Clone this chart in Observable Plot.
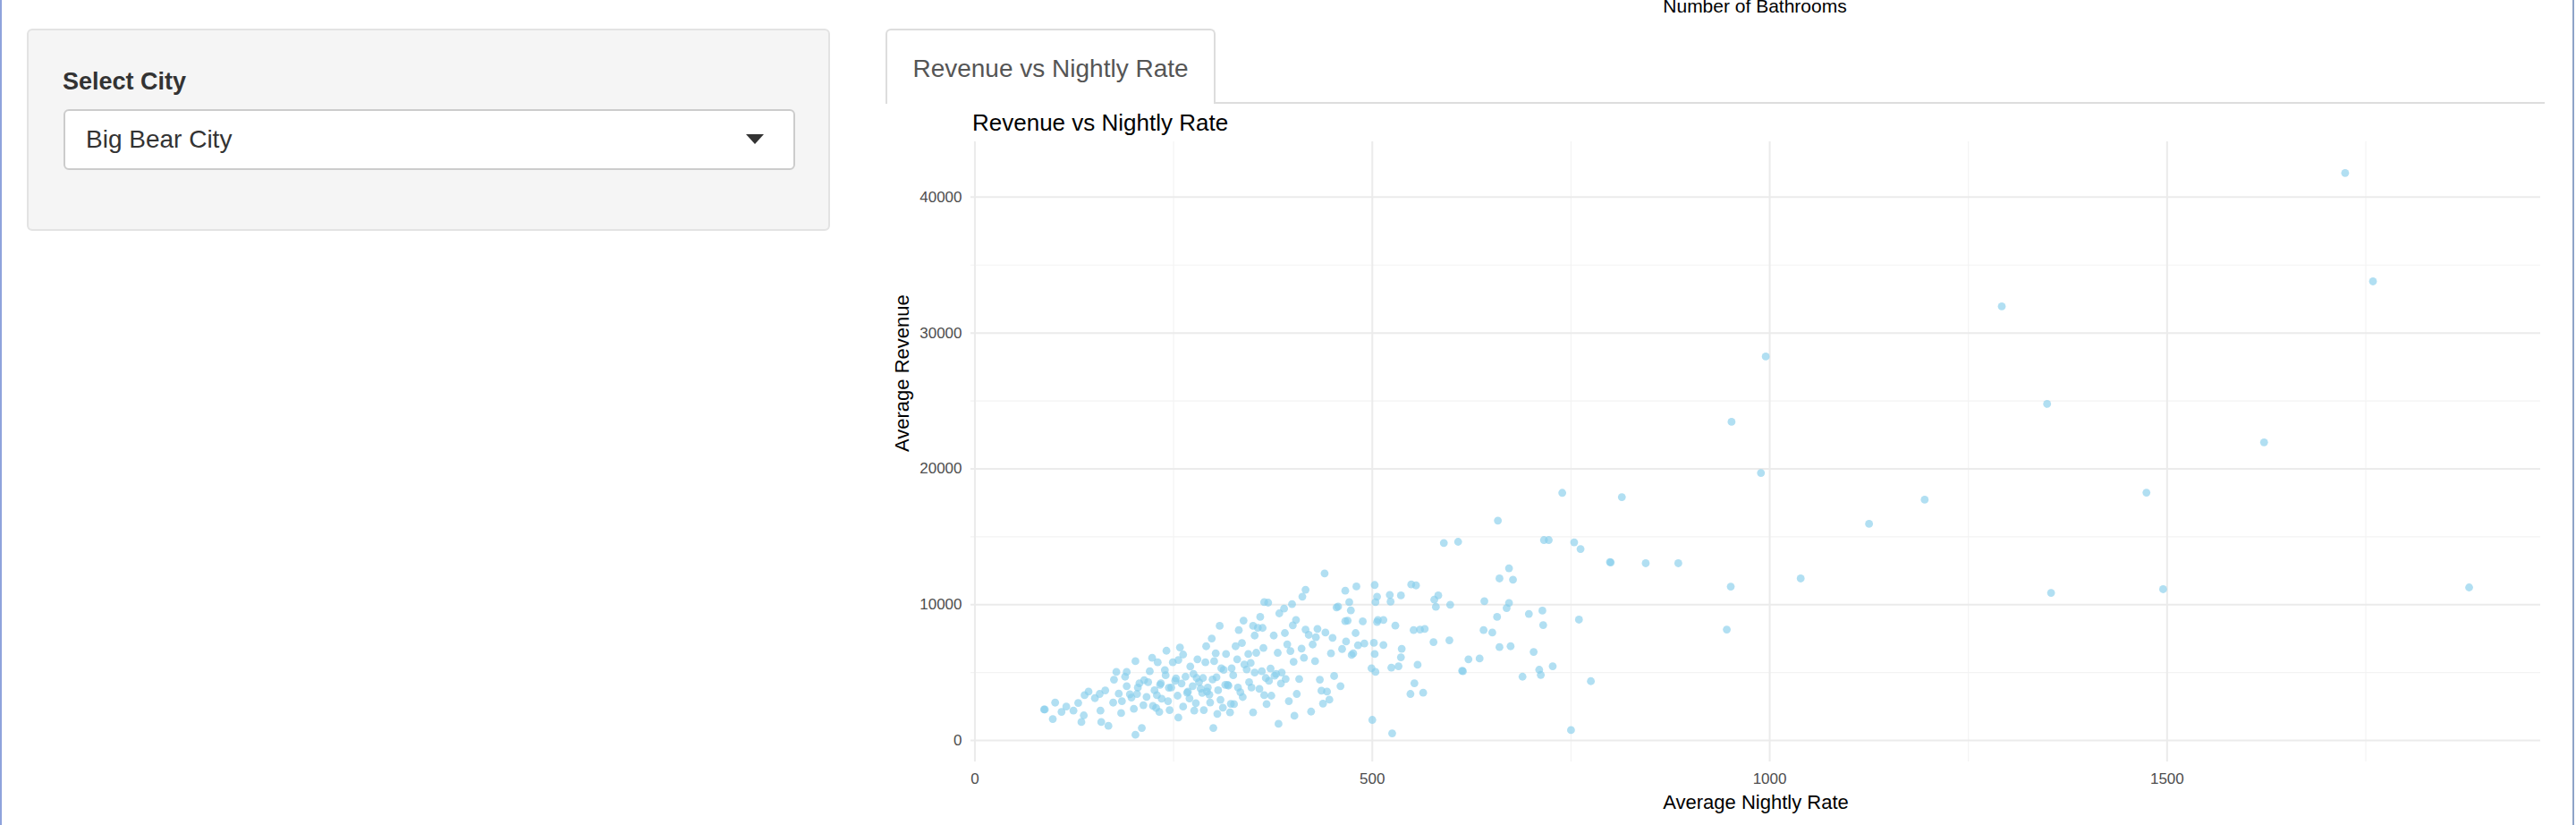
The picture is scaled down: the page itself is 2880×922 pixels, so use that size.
<!DOCTYPE html>
<html>
<head>
<meta charset="utf-8">
<script src="https://cdn.jsdelivr.net/npm/d3@7"></script>
<script src="https://cdn.jsdelivr.net/npm/@observablehq/plot@0.6"></script>
<style>
  body { margin: 0; width: 2880px; height: 922px; overflow: hidden; background: #fff; font-family: "Liberation Sans", Arial, sans-serif; }
  #page { position: relative; width: 2880px; height: 922px; }
  #plot { position: absolute; left: 0; top: 0; }
  .abs { position: absolute; }
  #sidebar { left: 30px; top: 32px; width: 898px; height: 226px; background: #f5f5f5; border: 2px solid #e3e3e3; border-radius: 6px; box-sizing: border-box; }
  #lbl { left: 70px; top: 76px; font-size: 27px; font-weight: bold; color: #333; }
  #select { left: 71px; top: 122px; width: 818px; height: 68px; background: #fff; border: 2px solid #ccc; border-radius: 6px; box-sizing: border-box; }
  #seltxt { left: 96px; top: 140px; font-size: 28px; color: #333; }
  #caret { left: 834px; top: 150px; width: 0; height: 0; border-left: 10px solid transparent; border-right: 10px solid transparent; border-top: 11px solid #333; }
  #tabline { left: 990px; top: 114px; width: 1855px; height: 0; border-top: 2px solid #ddd; }
  #tab { left: 990px; top: 32px; width: 369px; height: 84px; background: #fff; border: 2px solid #ddd; border-bottom: none; border-radius: 6px 6px 0 0; box-sizing: border-box; font-size: 28px; color: #555; text-align: center; line-height: 86px; }
  #ptitle { left: 1087px; top: 122px; font-size: 26px; color: #000; }
  #prev { left: 1762px; top: -5px; width: 400px; text-align: center; font-size: 21px; color: #000; }
  #lborder { left: 0; top: 0; width: 2px; height: 922px; background: #8fa3dc; }
  #rborder { left: 2876px; top: 0; width: 2px; height: 922px; background: #8fa3c8; }
</style>
</head>
<body>
<div id="page">
  <div id="plot"></div>
  <div class="abs" id="prev">Number of Bathrooms</div>
  <div class="abs" id="sidebar"></div>
  <div class="abs" id="lbl">Select City</div>
  <div class="abs" id="select"></div>
  <div class="abs" id="seltxt">Big Bear City</div>
  <div class="abs" id="caret"></div>
  <div class="abs" id="tabline"></div>
  <div class="abs" id="tab">Revenue vs Nightly Rate</div>
  <div class="abs" id="ptitle">Revenue vs Nightly Rate</div>
  <div class="abs" id="lborder"></div>
  <div class="abs" id="rborder"></div>
</div>
<script>
// values
const nightlyRate = [
  1724, 1759, 1292, 995, 1349, 952, 1622, 989, 1474, 814, 1195, 1125, 800, 844, 885, 951, 1039, 1354, 1495, 1880, 946,
  739, 658, 590, 608, 716, 722, 754, 762, 799, 440, 549, 555, 503, 480, 466, 416, 412, 660, 672, 677, 583, 578, 580,
  598, 672, 669, 641, 657, 697, 714, 715, 760, 640, 651, 660, 674, 560, 566, 552, 597, 577, 703, 621, 635, 727, 710,
  712, 689, 775, 613, 614, 557, 533, 524, 553, 548, 564, 500, 525, 750, 504, 506, 522, 523, 536, 506, 507, 514, 529,
  502, 514, 503, 537, 536, 499, 504,
  87, 88, 98, 101, 109, 115, 124, 130, 134, 137, 138, 143, 151, 157, 164, 158, 159, 168, 174, 175, 178, 181, 184, 189,
  191, 191, 197, 200, 202, 202, 204, 207, 210, 213, 216, 220, 223, 224, 229, 230, 232, 234, 235, 239, 241, 244, 245,
  249, 253, 256, 256, 258, 262, 265, 267, 271, 274, 276, 278, 280, 284, 288, 290, 291, 295, 298, 300, 301, 303, 304,
  305, 308, 310, 312, 316, 319, 321, 323, 326, 328, 330, 332, 334, 336, 338, 342, 344, 347, 350, 350, 352, 354, 356,
  359, 361, 362, 363, 364, 364, 367, 369, 370, 373, 376, 377, 381, 382, 383, 386, 389, 390, 391, 393, 395, 397, 399,
  400, 401, 402, 404, 405, 408, 411, 414, 416, 420, 423, 425, 428, 429, 431, 434, 436, 438, 441, 443, 446, 448, 450,
  452, 455, 457, 460, 462, 466, 467, 469, 471, 473, 474, 476, 479, 482, 488, 490,
  185, 195, 205, 212, 218, 226, 233, 240, 247, 252, 260, 268, 275, 282, 287, 293, 299, 306, 313, 318, 325, 331, 339,
  345, 352, 358, 366, 372, 379, 385, 262, 270, 286, 296, 309, 322, 337, 348, 228, 243, 255, 279, 292, 315
];
const avgRevenue = [
  41780, 33800, 31960, 28270, 24780, 23460, 21950, 19700, 18250, 17920, 17730, 15950, 13110, 13050, 13050, 11330, 11930, 10870, 11140, 11270, 8170,
  18235, 16190, 14540, 14630, 14760, 14760, 14590, 14100, 13140, 12300, 11490, 11420, 11450, 11340, 11030, 11100, 10590, 11930, 12680, 11840, 10680, 10370, 9840,
  10000, 10130, 9750, 10260, 9100, 9320, 9560, 8500, 8900, 8130, 7950, 6880, 6940, 8170, 8220, 8130, 7380, 7250, 6520, 5980, 6040, 5470, 5210,
  4830, 4700, 4370, 5140, 5100, 5580, 5470, 5360, 4220, 3430, 3520, 1520, 530, 770, 10190, 10590, 10720, 10220, 10680, 8720, 8880, 8880, 8460,
  7190, 7030, 6370, 6750, 6130, 5320, 5050,
  2285, 2285, 1580, 2790, 2110, 2500, 2200, 2770, 1360, 1850, 3340, 3600, 3120, 3430, 3690, 2200, 1360, 1080, 2790, 4480, 5050, 3450, 2020, 4700,
  4000, 5050, 3160, 2330, 5840, 420, 3430, 4220, 920, 4440, 3210, 5100, 6090, 2550, 3340, 5760, 2110, 4220, 3080, 5190, 6610, 3890, 2240,
  5760, 4570, 1690, 5930, 6850, 6330, 4700, 3520, 5450, 4000, 2200, 2750, 5980, 3820, 2240, 5760, 6940, 3380, 7510, 920, 5840, 6420, 4660,
  1960, 8440, 5320, 2420, 6370, 4040, 2070, 5320, 2680, 6940, 5980, 8130, 3560, 7180, 8830, 5230, 6370, 5710, 2070, 8440, 7730, 6460, 8300,
  9100, 5100, 8290, 6810, 10190, 3340, 2680, 10150, 4390, 3300, 7730, 4770, 6460, 1230, 9360, 5010, 9710, 7910, 4530, 7080, 2900, 6590, 10040,
  8480, 5800, 1820, 8880, 3430, 4530, 6770, 6090, 8170, 7780, 2130, 7070, 5840, 7600, 8220, 4480, 3670, 2720, 7950, 3600, 3010, 6420, 7560,
  4750, 9800, 9860, 4000, 6740, 8790, 7290, 8830, 10190, 9580, 6300, 6420, 7910, 7010, 8770, 7140,
  2900, 3400, 3900, 2600, 4300, 3700, 4100, 4800, 3900, 4400, 4200, 3600, 4900, 4300, 4600, 3900, 4500, 3700, 5200, 4100, 4800, 3900, 5600,
  4300, 5000, 3800, 4600, 5300, 4900, 4200, 2500, 3100, 3500, 2800, 3000, 2700, 3200, 3900, 2400, 2900, 3300, 4600, 3600, 4100
];
const xMajor = [0, 500, 1000, 1500];
const xMinor = [250, 750, 1250, 1750];
const yMajor = [0, 10000, 20000, 30000, 40000];
const yMinor = [5000, 15000, 25000, 35000];

const points = nightlyRate.map((r, i) => ({ rate: r, revenue: avgRevenue[i] }));

const chart = Plot.plot({
  width: 2880,
  height: 922,
  marginLeft: 1085,
  marginRight: 40,
  marginTop: 158,
  marginBottom: 71,
  style: { background: "transparent", fontFamily: "Liberation Sans, Arial, sans-serif", fontSize: "17px", color: "#4d4d4d" },
  x: { domain: [-5, 1970], ticks: xMajor, tickSize: 0, tickPadding: 12, label: null, tickFormat: d => String(d) },
  y: { domain: [-1575, 44075], ticks: yMajor, tickSize: 0, tickPadding: 10, label: null, tickFormat: d => String(d) },
  marks: [
    Plot.ruleX(xMinor, { stroke: "#f3f3f3", strokeWidth: 1.2 }),
    Plot.ruleY(yMinor, { stroke: "#f3f3f3", strokeWidth: 1.2 }),
    Plot.ruleX(xMajor, { stroke: "#ebebeb", strokeWidth: 2 }),
    Plot.ruleY(yMajor, { stroke: "#ebebeb", strokeWidth: 2 }),
    Plot.dot(points, { x: "rate", y: "revenue", r: 4.4, fill: "#87CEEB", fillOpacity: 0.65, stroke: "none" }),
    Plot.text(["Average Nightly Rate"], { frameAnchor: "bottom", dy: 52, fontSize: 22, fill: "#000" }),
    Plot.text(["Average Revenue"], { frameAnchor: "left", dx: -77, rotate: -90, fontSize: 22, fill: "#000" })
  ]
});
document.getElementById("plot").appendChild(chart);
</script>
</body>
</html>
